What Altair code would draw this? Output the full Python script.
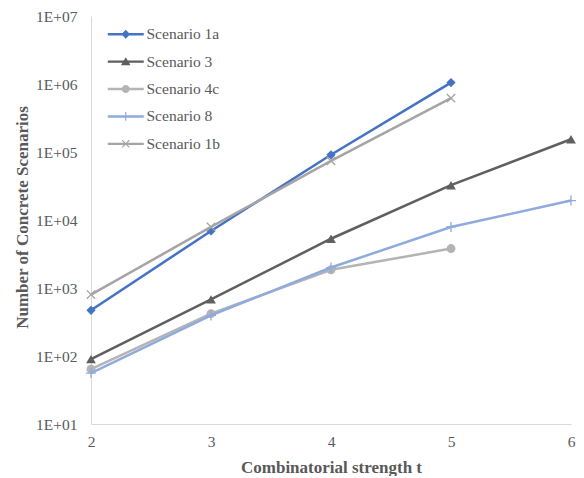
import altair as alt
import pandas as pd

# ---- data ----
series_names = ["Scenario 1a", "Scenario 3", "Scenario 4c", "Scenario 8", "Scenario 1b"]
t_1a = [2, 3, 4, 5]
v_1a = [470, 6900, 91000, 1050000]
t_3 = [2, 3, 4, 5, 6]
v_3 = [90, 680, 5300, 32500, 154000]
t_4c = [2, 3, 4, 5]
v_4c = [64, 420, 1850, 3800]
t_8 = [2, 3, 4, 5, 6]
v_8 = [56, 395, 2000, 7900, 19300]
t_1b = [2, 3, 4, 5]
v_1b = [800, 7900, 74000, 620000]
colors = ["#4472C4", "#5F5F5F", "#B4B4B4", "#8FAADC", "#A5A5A5"]
x_ticks = [2, 3, 4, 5, 6]
y_ticks = [10, 100, 1000, 10000, 100000, 1000000, 10000000]

rows = []
for name, ts, vs in zip(series_names, [t_1a, t_3, t_4c, t_8, t_1b], [v_1a, v_3, v_4c, v_8, v_1b]):
    for t, v in zip(ts, vs):
        rows.append({"series": name, "t": t, "value": v})
df = pd.DataFrame(rows)

FONT = "Liberation Serif"
TXT = "#595959"

color_scale = alt.Scale(domain=series_names, range=colors)

x_enc = alt.X("t:Q", scale=alt.Scale(domain=[2, 6], nice=False, zero=False),
              axis=alt.Axis(values=x_ticks, format="d", title="Combinatorial strength t",
                            grid=False, ticks=False, tickSize=0, domainColor="#D9D9D9",
                            domainWidth=1, labelFont=FONT, labelFontSize=15.5,
                            labelColor=TXT, labelPadding=10, labelFlush=False,
                            titleFont=FONT, titleFontSize=17, titleFontWeight="bold",
                            titleColor=TXT, titleY=43, titleBaseline="middle"))
y_enc = alt.Y("value:Q", scale=alt.Scale(type="log", domain=[10, 1e7], nice=False),
              axis=alt.Axis(values=y_ticks,
                            labelExpr="'1E+' + (datum.value < 1e10 ? '0' : '') + format(log(datum.value)/LN10, '.0f')",
                            title="Number of Concrete Scenarios",
                            grid=False, ticks=False, tickSize=0, domainColor="#D9D9D9",
                            domainWidth=1, labelFont=FONT, labelFontSize=15.5,
                            labelColor=TXT, labelPadding=14, labelFlush=False,
                            titleFont=FONT, titleFontSize=17, titleFontWeight="bold",
                            titleColor=TXT, titleX=-69, titleY=201, titleAngle=-90,
                            titleBaseline="middle"))

marker_specs = {
    "Scenario 1a": dict(shape="diamond", filled=True, size=85),
    "Scenario 3": dict(shape="triangle-up", filled=True, size=95),
    "Scenario 4c": dict(shape="circle", filled=True, size=80),
    "Scenario 8": dict(shape="M-1,0H1M0,-1V1", filled=False, size=100, strokeWidth=1.3),
    "Scenario 1b": dict(shape="M-1,-1L1,1M-1,1L1,-1", filled=False, size=70, strokeWidth=1.3),
}

layers = []
for name, col in zip(series_names, colors):
    base = alt.Chart(df).transform_filter(alt.datum.series == name)
    layers.append(base.mark_line(strokeWidth=2.5, color=col).encode(x=x_enc, y=y_enc))
    layers.append(base.mark_point(opacity=1, color=col, **marker_specs[name]).encode(x=x_enc, y=y_enc))

# legend-only layer: line + marker glyphs as custom paths
legend_paths = [
    "M-4.5,-0.3H4.5V0.3H-4.5Z M0,-1.1L1.1,0L0,1.1L-1.1,0Z",
    "M-4.5,-0.3H4.5V0.3H-4.5Z M0,-1.1L1.2,0.9L-1.2,0.9Z",
    "M-4.5,-0.3H4.5V0.3H-4.5Z M1,0A1,1 0 1,1 -1,0A1,1 0 1,1 1,0Z",
    "M-4.5,-0.3H4.5V0.3H-4.5Z M-0.15,-1.1H0.15V-0.15H1.1V0.15H0.15V1.1H-0.15V0.15H-1.1V-0.15H-0.15Z",
    "M-4.5,-0.3H4.5V0.3H-4.5Z M0,-0.2L0.8,-1L1,-0.8L0.2,0L1,0.8L0.8,1L0,0.2L-0.8,1L-1,0.8L-0.2,0L-1,-0.8L-0.8,-1Z",
]
leg = alt.Legend(title=None, orient="none", legendX=27, legendY=10.5, padding=0,
                 symbolSize=64, symbolStrokeWidth=0, symbolOpacity=1,
                 labelFont=FONT, labelFontSize=15.5, labelColor=TXT,
                 labelOffset=13, rowPadding=10.4)
legend_layer = alt.Chart(df).mark_point(filled=True, opacity=0).encode(
    x=x_enc, y=y_enc,
    color=alt.Color("series:N", scale=color_scale, legend=leg),
    shape=alt.Shape("series:N", scale=alt.Scale(domain=series_names, range=legend_paths), legend=leg),
)
layers.append(legend_layer)

chart = alt.layer(*layers).properties(
    width=480, height=408,
    autosize=alt.AutoSizeParams(type="none"),
    padding={"left": 83, "top": 8, "right": 5, "bottom": 52},
).configure(font=FONT).configure_view(stroke=None).configure_legend(
    labelFont=FONT, labelFontSize=15.5, labelColor=TXT
)

chart.save("out.html", embed_options={"renderer": "svg", "actions": False})
